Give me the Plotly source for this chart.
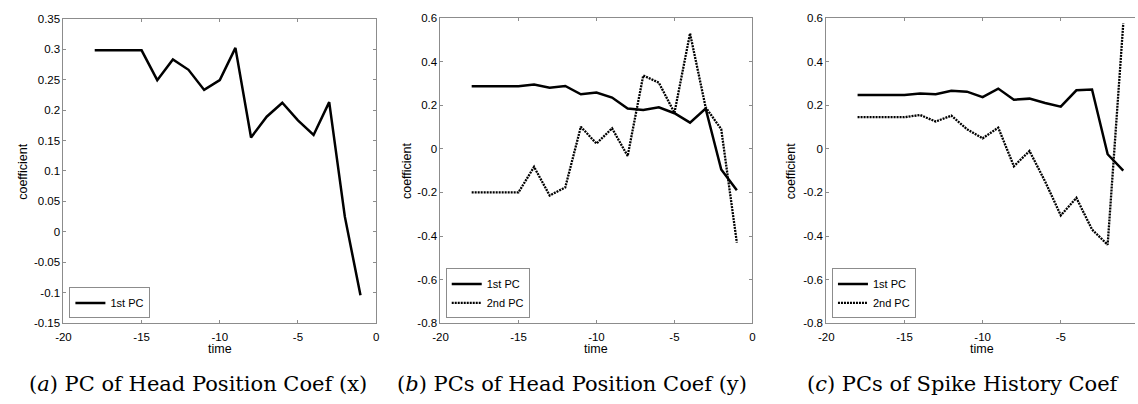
import plotly.graph_objects as go

W, H = 1138, 404

time = [-18, -17, -16, -15, -14, -13, -12, -11, -10, -9, -8, -7, -6, -5, -4, -3, -2, -1]

# (a) Head position coef (x)
a_pc1 = [0.298, 0.298, 0.298, 0.298, 0.249, 0.283, 0.266, 0.233, 0.249, 0.302,
         0.155, 0.189, 0.212, 0.183, 0.159, 0.213, 0.025, -0.104]

# (b) Head position coef (y)
b_pc1 = [0.287, 0.287, 0.287, 0.287, 0.295, 0.280, 0.288, 0.250, 0.258, 0.235,
         0.185, 0.178, 0.190, 0.163, 0.120, 0.185, -0.095, -0.190]
b_pc2 = [-0.200, -0.200, -0.200, -0.200, -0.083, -0.214, -0.177, 0.101, 0.024, 0.094,
         -0.033, 0.336, 0.303, 0.165, 0.529, 0.190, 0.090, -0.430]

# (c) Spike history coef
c_pc1 = [0.247, 0.247, 0.247, 0.247, 0.253, 0.250, 0.266, 0.262, 0.237, 0.276,
         0.225, 0.230, 0.210, 0.193, 0.268, 0.272, -0.025, -0.100]
c_pc2 = [0.145, 0.145, 0.145, 0.145, 0.155, 0.125, 0.152, 0.090, 0.048, 0.097,
         -0.080, -0.010, -0.150, -0.305, -0.225, -0.370, -0.440, 0.575]

series_names = ["1st PC", "2nd PC"]
captions = ["(<i>a</i>) PC of Head Position Coef (x)",
            "(<i>b</i>) PCs of Head Position Coef (y)",
            "(<i>c</i>) PCs of Spike History Coef"]

x_ticks = [-20, -15, -10, -5, 0]
a_yticks = [-0.15, -0.1, -0.05, 0, 0.05, 0.1, 0.15, 0.2, 0.25, 0.3, 0.35]
a_yticktext = ["-0.15", "-0.1", "-0.05", "0", "0.05", "0.1", "0.15", "0.2", "0.25", "0.3", "0.35"]
bc_yticks = [-0.8, -0.6, -0.4, -0.2, 0, 0.2, 0.4, 0.6]
bc_yticktext = ["-0.8", "-0.6", "-0.4", "-0.2", "0", "0.2", "0.4", "0.6"]

def px_x(p):
    return p / W

def px_y(p):
    return 1 - p / H

AX = "#8c8c8c"
SANS = "Liberation Sans, Arial, sans-serif"
TICKFONT = dict(family=SANS, size=11.5, color="#000")

fig = go.Figure()

solid = dict(color="black", width=2.5)
dotted = dict(color="black", width=2.3, dash="2px,1px")

fig.add_trace(go.Scatter(x=time, y=a_pc1, mode="lines", line=solid, name=series_names[0],
                         xaxis="x", yaxis="y", legend="legend"))
fig.add_trace(go.Scatter(x=time, y=b_pc1, mode="lines", line=solid, name=series_names[0],
                         xaxis="x2", yaxis="y2", legend="legend2"))
fig.add_trace(go.Scatter(x=time, y=b_pc2, mode="lines", line=dotted, name=series_names[1],
                         xaxis="x2", yaxis="y2", legend="legend2"))
fig.add_trace(go.Scatter(x=time, y=c_pc1, mode="lines", line=solid, name=series_names[0],
                         xaxis="x3", yaxis="y3", legend="legend3"))
fig.add_trace(go.Scatter(x=time, y=c_pc2, mode="lines", line=dotted, name=series_names[1],
                         xaxis="x3", yaxis="y3", legend="legend3"))

xdoms = [[px_x(56), px_x(371.7)], [px_x(436.7), px_x(751.7)], [px_x(826.3), 1.0]]
ydoms = [[px_y(327.0), px_y(13.0)], [px_y(327.0), px_y(12.3)], [px_y(327.0), px_y(12.3)]]
xranges = [[-20, 0], [-20, 0], [-20, -0.25]]
yranges = [[-0.15, 0.35], [-0.8, 0.6], [-0.8, 0.6]]
yt = [(a_yticks, a_yticktext), (bc_yticks, bc_yticktext), (bc_yticks, bc_yticktext)]

common = dict(showgrid=False, zeroline=False, showline=True, linecolor=AX, linewidth=1,
              ticks="inside", ticklen=3, tickcolor=AX, tickfont=TICKFONT)

layout = {}
for i in range(3):
    sx = "" if i == 0 else str(i + 1)
    layout["xaxis" + sx] = dict(domain=xdoms[i], range=xranges[i], tickvals=x_ticks,
                                ticktext=[str(v) for v in x_ticks], ticklabelstandoff=3,
                                anchor="y" + sx, mirror="ticks", **common)
    layout["yaxis" + sx] = dict(domain=ydoms[i], range=yranges[i], tickvals=yt[i][0],
                                ticktext=yt[i][1], anchor="x" + sx, ticklabelstandoff=0,
                                mirror="ticks" if i < 2 else False, **common)

leg_common = dict(bgcolor="white", bordercolor=AX, borderwidth=1,
                  font=dict(family=SANS, size=11, color="#000"),
                  xanchor="left", yanchor="bottom", tracegroupgap=0, itemwidth=30)
layout["legend"] = dict(x=px_x(62), y=px_y(322), **leg_common)
layout["legend2"] = dict(x=px_x(442), y=px_y(322), **leg_common)
layout["legend3"] = dict(x=px_x(832), y=px_y(322), **leg_common)

annotations = []
ylabel_x = [15, 403, 791]
xlabel_x = [214, 594, 984]
cap_x = [191.5, 569, 964.5]
for i in range(3):
    annotations.append(dict(text="coefficient", x=px_x(ylabel_x[i]), y=px_y(170), xref="paper",
                            yref="paper", showarrow=False, textangle=-90,
                            font=dict(family=SANS, size=12.5, color="#000"),
                            xanchor="center", yanchor="middle"))
    annotations.append(dict(text="time", x=px_x(xlabel_x[i]), y=px_y(353), xref="paper",
                            yref="paper", showarrow=False,
                            font=dict(family=SANS, size=12.5, color="#000"),
                            xanchor="center", yanchor="middle"))
    annotations.append(dict(text=captions[i], x=px_x(cap_x[i]), y=px_y(390), xref="paper",
                            yref="paper", showarrow=False,
                            font=dict(family="DejaVu Serif, serif", size=21, color="#000"),
                            xanchor="center", yanchor="middle"))

fig.update_layout(width=W, height=H, margin=dict(l=0, r=0, t=0, b=0),
                  paper_bgcolor="white", plot_bgcolor="white", showlegend=True,
                  annotations=annotations, **layout)

fig.write_html("out.html")
